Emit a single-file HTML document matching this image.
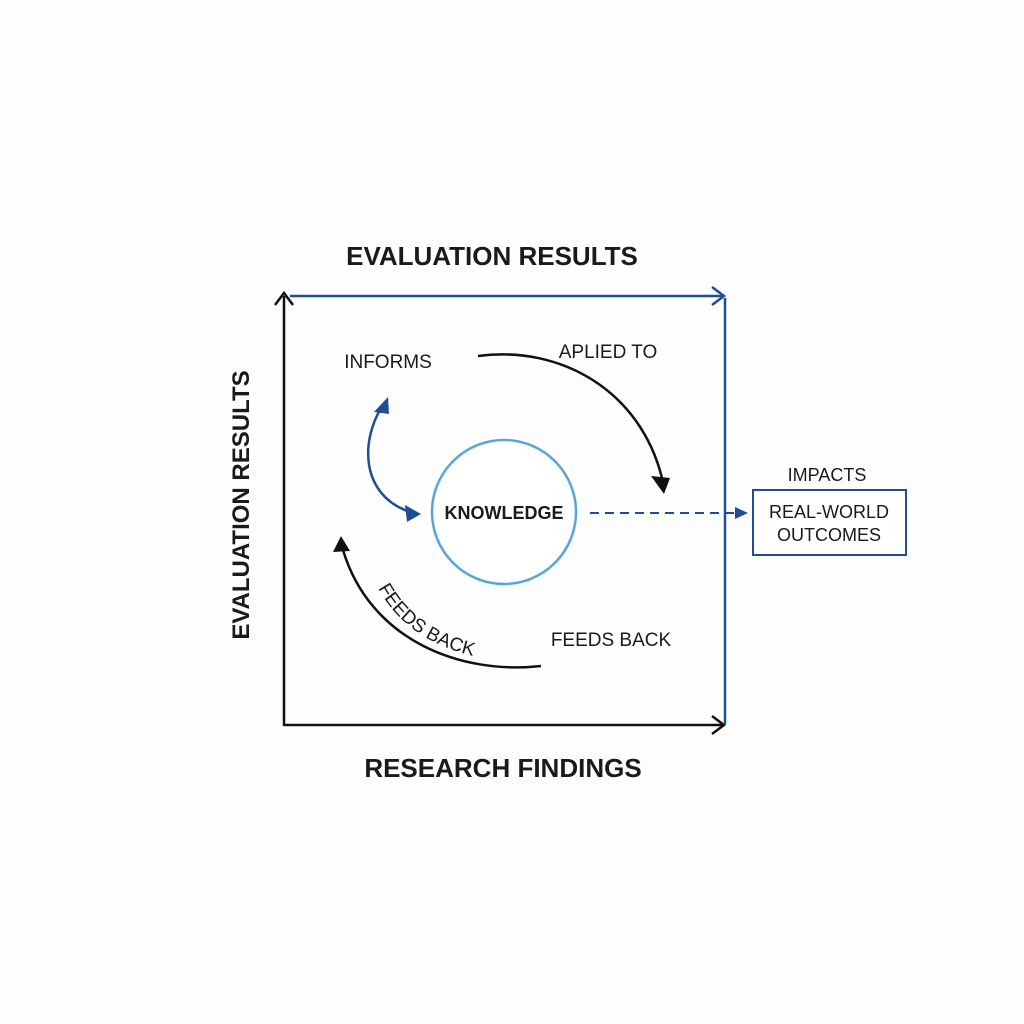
<!DOCTYPE html>
<html><head><style>
html,body{margin:0;padding:0;background:#fff;}
svg{display:block;}
text{font-family:"Liberation Sans",sans-serif;}
</style></head><body>
<svg width="1024" height="1024" viewBox="0 0 1024 1024">
<rect width="1024" height="1024" fill="#fdfdfd"/>
<text x="492" y="265" font-size="26" font-weight="bold" fill="#1a1a1a" text-anchor="middle">EVALUATION RESULTS</text>
<text x="503" y="777" font-size="26" font-weight="bold" fill="#1a1a1a" text-anchor="middle">RESEARCH FINDINGS</text>
<text transform="translate(249,505) rotate(-90)" font-size="24" font-weight="bold" fill="#1a1a1a" text-anchor="middle">EVALUATION RESULTS</text>
<line x1="284" y1="296" x2="284" y2="726" stroke="#111" stroke-width="2.5"/>
<polyline points="275,305 284,293 293,305" fill="none" stroke="#111" stroke-width="2.5"/>
<line x1="284" y1="725" x2="724" y2="725" stroke="#111" stroke-width="2.5"/>
<polyline points="712,716 724,725 712,734" fill="none" stroke="#111" stroke-width="2.5"/>
<line x1="290" y1="296" x2="724" y2="296" stroke="#1f4e95" stroke-width="2.5"/>
<polyline points="712,287 724,296 712,305" fill="none" stroke="#1f4e95" stroke-width="2.5"/>
<line x1="725" y1="298" x2="725" y2="724" stroke="#1f4e95" stroke-width="2.5"/>
<circle cx="504" cy="512" r="72" fill="#fff" stroke="#5aa5d8" stroke-width="2.5"/>
<text x="504" y="519" font-size="18" font-weight="bold" fill="#1a1a1a" text-anchor="middle">KNOWLEDGE</text>
<line x1="590" y1="513" x2="740" y2="513" stroke="#1f4e95" stroke-width="2" stroke-dasharray="9,6"/>
<polygon points="748,513 735,507 735,519" fill="#1f4e95"/>
<text x="827" y="481" font-size="18" fill="#1a1a1a" text-anchor="middle">IMPACTS</text>
<rect x="753" y="490" width="153" height="65" fill="#fff" stroke="#1f4e95" stroke-width="2"/>
<text x="829" y="518" font-size="18" fill="#1a1a1a" text-anchor="middle">REAL-WORLD</text>
<text x="829" y="541" font-size="18" fill="#1a1a1a" text-anchor="middle">OUTCOMES</text>
<text x="388" y="368" font-size="19" fill="#1a1a1a" text-anchor="middle">INFORMS</text>
<text x="608" y="358" font-size="19" fill="#1a1a1a" text-anchor="middle">APLIED TO</text>
<text x="611" y="646" font-size="19" fill="#1a1a1a" text-anchor="middle">FEEDS BACK</text>
<path d="M478,356 C560,345 640,390 662,478" fill="none" stroke="#111" stroke-width="2.5"/>
<polygon points="664,494 651,476 670,478" fill="#111"/>
<path d="M383,405 C360,440 360,495 410,512" fill="none" stroke="#1f4e95" stroke-width="2.5"/>
<polygon points="388,397 374,412 389,414" fill="#1f4e95"/>
<polygon points="421,514 405,505 407,522" fill="#1f4e95"/>
<path d="M541,666 C460,675 370,640 343,550" fill="none" stroke="#111" stroke-width="2.5"/>
<polygon points="341,536 333,552 350,551" fill="#111"/>
<path id="fbt" d="M378,588 C400,628 435,648 482,658" fill="none"/>
<text font-size="19" fill="#1a1a1a"><textPath href="#fbt">FEEDS BACK</textPath></text>
</svg>
</body></html>
